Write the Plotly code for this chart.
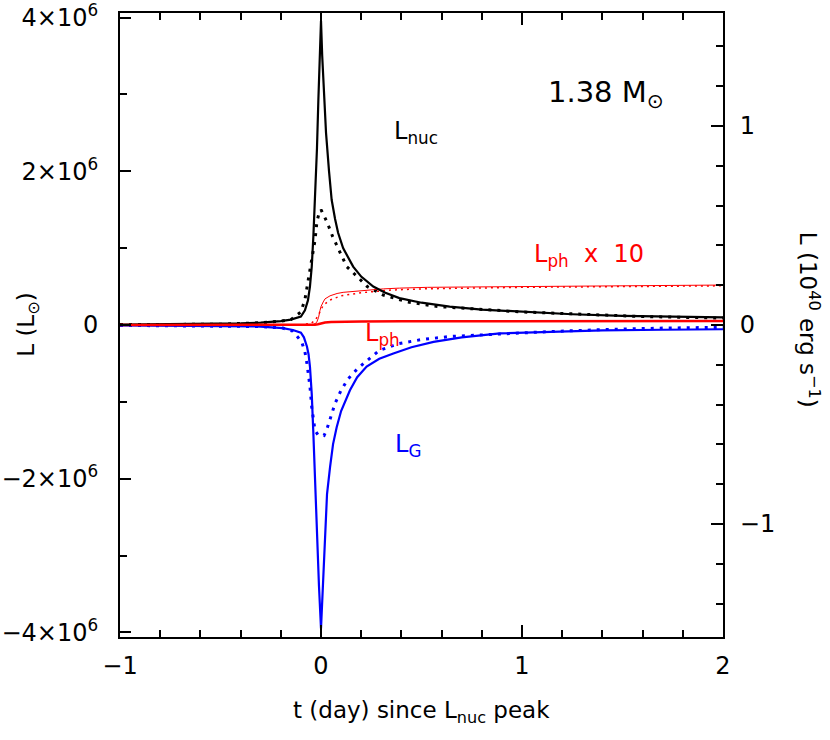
import plotly.graph_objects as go

# ---------------- data ----------------
# L_nuc, solid (units of L_sun)
t_nuc = [-1, -0.6, -0.4, -0.3, -0.2, -0.15, -0.1, -0.08, -0.065, -0.055, -0.046, -0.038, -0.03,
         -0.02, -0.013, -0.006, 0, 0.006, 0.015, 0.025, 0.04, 0.053, 0.07, 0.085, 0.11, 0.135,
         0.16, 0.2, 0.26, 0.32, 0.39, 0.5, 0.64, 0.8, 1.0, 1.25, 1.5, 1.75, 2.0]
L_nuc = [0.005e6, 0.01e6, 0.02e6, 0.03e6, 0.05e6, 0.07e6, 0.11e6, 0.19e6, 0.32e6, 0.5e6, 0.76e6,
         1.15e6, 1.63e6, 2.3e6, 2.94e6, 3.5e6, 3.96e6, 3.5e6, 2.94e6, 2.5e6, 2.0e6, 1.63e6,
         1.38e6, 1.2e6, 1.0e6, 0.87e6, 0.76e6, 0.63e6, 0.5e6, 0.42e6, 0.35e6, 0.29e6, 0.24e6,
         0.2e6, 0.17e6, 0.14e6, 0.12e6, 0.11e6, 0.1e6]

# L_nuc, dotted
t_nuc_d = [-1, -0.5, -0.3, -0.2, -0.15, -0.1, -0.08, -0.065, -0.05, -0.038, -0.03, -0.02, -0.01,
           0, 0.01, 0.03, 0.058, 0.095, 0.128, 0.18, 0.23, 0.31, 0.43, 0.58, 0.8, 1.0, 1.3,
           1.6, 2.0]
L_nuc_d = [0.005e6, 0.01e6, 0.03e6, 0.05e6, 0.07e6, 0.17e6, 0.33e6, 0.55e6, 0.76e6, 0.94e6,
           1.1e6, 1.35e6, 1.45e6, 1.5e6, 1.45e6, 1.34e6, 1.15e6, 0.94e6, 0.76e6, 0.63e6, 0.5e6,
           0.39e6, 0.3e6, 0.24e6, 0.2e6, 0.17e6, 0.14e6, 0.11e6, 0.09e6]

# L_G, solid
t_G = [-1, -0.5, -0.3, -0.19, -0.14, -0.1, -0.085, -0.07, -0.062, -0.055, -0.046, -0.038, -0.03,
       -0.021, -0.01, 0, 0.01, 0.02, 0.03, 0.045, 0.06, 0.078, 0.1, 0.144, 0.18, 0.227, 0.29,
       0.36, 0.45, 0.56, 0.7, 0.89, 1.1, 1.4, 1.7, 2.0]
L_G = [-0.005e6, -0.01e6, -0.02e6, -0.04e6, -0.065e6, -0.1e6, -0.16e6, -0.28e6, -0.38e6,
       -0.54e6, -0.9e6, -1.41e6, -2.0e6, -2.72e6, -3.4e6, -3.95e6, -3.4e6, -2.72e6, -2.2e6,
       -1.85e6, -1.55e6, -1.33e6, -1.12e6, -0.85e6, -0.68e6, -0.54e6, -0.44e6, -0.37e6,
       -0.29e6, -0.22e6, -0.16e6, -0.11e6, -0.09e6, -0.07e6, -0.062e6, -0.055e6]

# L_G, dotted
t_G_d = [-1, -0.5, -0.3, -0.19, -0.14, -0.096, -0.08, -0.07, -0.055, -0.046, -0.038, -0.03,
         -0.015, 0, 0.015, 0.03, 0.045, 0.07, 0.1, 0.135, 0.185, 0.29, 0.39, 0.5, 0.64, 0.84,
         1.1, 1.4, 1.7, 2.0]
L_G_d = [-0.005e6, -0.01e6, -0.02e6, -0.04e6, -0.08e6, -0.22e6, -0.35e6, -0.5e6, -0.8e6,
         -1.07e6, -1.25e6, -1.37e6, -1.43e6, -1.44e6, -1.44e6, -1.35e6, -1.22e6, -1.02e6,
         -0.85e6, -0.7e6, -0.56e6, -0.33e6, -0.24e6, -0.19e6, -0.15e6, -0.12e6, -0.09e6,
         -0.06e6, -0.04e6, -0.03e6]

# L_ph, solid (thick)
t_ph = [-1, -0.5, -0.1, -0.03, -0.015, 0.0, 0.02, 0.05, 0.1, 0.2, 0.4, 0.7, 1.0, 1.5, 2.0]
L_ph = [0.0, 0.0, 0.002e6, 0.004e6, 0.01e6, 0.022e6, 0.033e6, 0.04e6, 0.044e6, 0.047e6,
        0.048e6, 0.049e6, 0.05e6, 0.051e6, 0.052e6]

# L_ph x 10, solid (thin)
t_ph10 = [-1, -0.5, -0.1, -0.04, -0.022, -0.012, -0.005, 0.0, 0.011, 0.02, 0.045, 0.08, 0.11,
          0.17, 0.227, 0.31, 0.39, 0.53, 0.75, 1.05, 1.5, 2.0]
L_ph10 = [0.0, 0.0, 0.0, 0.005e6, 0.03e6, 0.1e6, 0.19e6, 0.24e6, 0.3e6, 0.34e6, 0.38e6,
          0.41e6, 0.425e6, 0.44e6, 0.455e6, 0.47e6, 0.48e6, 0.49e6, 0.495e6, 0.5e6,
          0.51e6, 0.52e6]

# L_ph x 10, dotted (thin)
t_ph10_d = [-1, -0.5, -0.1, -0.05, -0.03, -0.015, -0.005, 0.01, 0.04, 0.1, 0.2, 0.35, 0.5,
            1.0, 1.5, 2.0]
L_ph10_d = [0.0, 0.0, 0.003e6, 0.02e6, 0.06e6, 0.12e6, 0.17e6, 0.25e6, 0.32e6, 0.38e6,
            0.42e6, 0.455e6, 0.47e6, 0.49e6, 0.5e6, 0.51e6]

# axes
x_range = [-1, 2]
y_range = [-4.06e6, 4.06e6]
L_SUN_ERG = 3.86e33          # erg/s
UNIT_RIGHT = 1e40 / L_SUN_ERG  # 1e40 erg/s in L_sun
y_ticks = [-4e6, -2e6, 0, 2e6, 4e6]
y_ticktext = ["−4×10<sup>6</sup>", "−2×10<sup>6</sup>", "0", "2×10<sup>6</sup>", "4×10<sup>6</sup>"]
y2_ticks = [-1, 0, 1]
y2_ticktext = ["−1", "0", "1"]
x_ticks = [-1, 0, 1, 2]
x_ticktext = ["−1", "0", "1", "2"]

FONT = "DejaVu Sans"
BLACK = "#000000"
BLUE = "#0000ff"
RED = "#ff0000"
DOT = "3px,6px"

fig = go.Figure()
fig.add_trace(go.Scatter(x=t_nuc_d, y=L_nuc_d, mode="lines",
                         line=dict(color=BLACK, width=3, dash=DOT)))
fig.add_trace(go.Scatter(x=t_G_d, y=L_G_d, mode="lines",
                         line=dict(color=BLUE, width=3, dash=DOT)))
fig.add_trace(go.Scatter(x=t_ph10_d, y=L_ph10_d, mode="lines",
                         line=dict(color=RED, width=1.5, dash="2px,4px")))
fig.add_trace(go.Scatter(x=t_ph10, y=L_ph10, mode="lines",
                         line=dict(color=RED, width=1)))
fig.add_trace(go.Scatter(x=t_nuc, y=L_nuc, mode="lines",
                         line=dict(color=BLACK, width=2.2)))
fig.add_trace(go.Scatter(x=t_G, y=L_G, mode="lines",
                         line=dict(color=BLUE, width=2.2)))
fig.add_trace(go.Scatter(x=t_ph, y=L_ph, mode="lines",
                         line=dict(color=RED, width=2.5)))
# invisible trace to activate the right axis
fig.add_trace(go.Scatter(x=[None], y=[None], yaxis="y2", mode="lines", showlegend=False))

axis_common = dict(showline=True, linecolor=BLACK, linewidth=2, ticks="inside",
                   tickcolor=BLACK, tickwidth=1.6, showgrid=False, zeroline=False,
                   automargin=False, ticklabeloverflow="allow",
                   tickfont=dict(family=FONT, size=24, color=BLACK))

fig.update_layout(
    width=830, height=740,
    margin=dict(l=120, r=107, t=13, b=103, autoexpand=False),
    paper_bgcolor="white", plot_bgcolor="white",
    showlegend=False,
    font=dict(family=FONT, size=24, color=BLACK),
    xaxis=dict(range=x_range, tickmode="array", tickvals=x_ticks, ticktext=x_ticktext,
               ticklen=12, mirror="ticks", ticklabelstandoff=6,
               minor=dict(tickmode="linear", tick0=0, dtick=0.2, ticklen=7,
                          tickcolor=BLACK, tickwidth=1.6, ticks="inside"),
               **axis_common),
    yaxis=dict(range=y_range, tickmode="array", tickvals=y_ticks, ticktext=y_ticktext,
               ticklen=11, mirror=False, ticklabelstandoff=15,
               minor=dict(tickmode="linear", tick0=0, dtick=1e6, ticklen=7,
                          tickcolor=BLACK, tickwidth=1.6, ticks="inside"),
               **axis_common),
    yaxis2=dict(range=[y_range[0] / UNIT_RIGHT, y_range[1] / UNIT_RIGHT], overlaying="y",
                side="right", tickmode="array", tickvals=y2_ticks, ticktext=y2_ticktext,
                ticklen=12, ticklabelstandoff=10,
                minor=dict(tickmode="linear", tick0=0, dtick=0.2, ticklen=7,
                           tickcolor=BLACK, tickwidth=1.6, ticks="inside"),
                **axis_common),
)

ann = []
ann.append(dict(text="1.38 M<sub>⊙</sub>", x=1.12, y=3.0e6, xref="x", yref="y",
                xanchor="left", yanchor="middle", showarrow=False,
                font=dict(family=FONT, size=29, color=BLACK)))
ann.append(dict(text="L<sub>nuc</sub>", x=0.355, y=2.5e6, xref="x", yref="y",
                xanchor="left", yanchor="middle", showarrow=False,
                font=dict(family=FONT, size=24, color=BLACK)))
ann.append(dict(text="L<sub>ph</sub>  x  10", x=1.05, y=0.91e6, xref="x", yref="y",
                xanchor="left", yanchor="middle", showarrow=False,
                font=dict(family=FONT, size=24, color=RED)))
ann.append(dict(text="L<sub>ph</sub>", x=0.207, y=-0.12e6, xref="x", yref="y",
                xanchor="left", yanchor="middle", showarrow=False,
                font=dict(family=FONT, size=24, color=RED)))
ann.append(dict(text="L<sub>G</sub>", x=0.36, y=-1.57e6, xref="x", yref="y",
                xanchor="left", yanchor="middle", showarrow=False,
                font=dict(family=FONT, size=24, color=BLUE)))
# axis titles
ann.append(dict(text="t (day) since L<sub>nuc</sub> peak", x=0.5, y=-0.12, xref="paper",
                yref="paper", xanchor="center", yanchor="middle", showarrow=False,
                font=dict(family=FONT, size=23, color=BLACK)))
ann.append(dict(text="L (L<sub>⊙</sub>)", x=-0.153, y=0.5, xref="paper", yref="paper",
                xanchor="center", yanchor="middle", textangle=-90, showarrow=False,
                font=dict(family=FONT, size=23, color=BLACK)))
ann.append(dict(text="L (10<sup>40</sup> erg s<sup>−1</sup>)", x=1.143, y=0.508,
                xref="paper", yref="paper", xanchor="center", yanchor="middle",
                textangle=90, showarrow=False,
                font=dict(family=FONT, size=23, color=BLACK)))
fig.update_layout(annotations=ann)

# remove the default 8px page margin so the figure fills the window exactly
fig.write_html("out.html", config={"displayModeBar": False},
               post_script="document.body.style.margin='0';")
